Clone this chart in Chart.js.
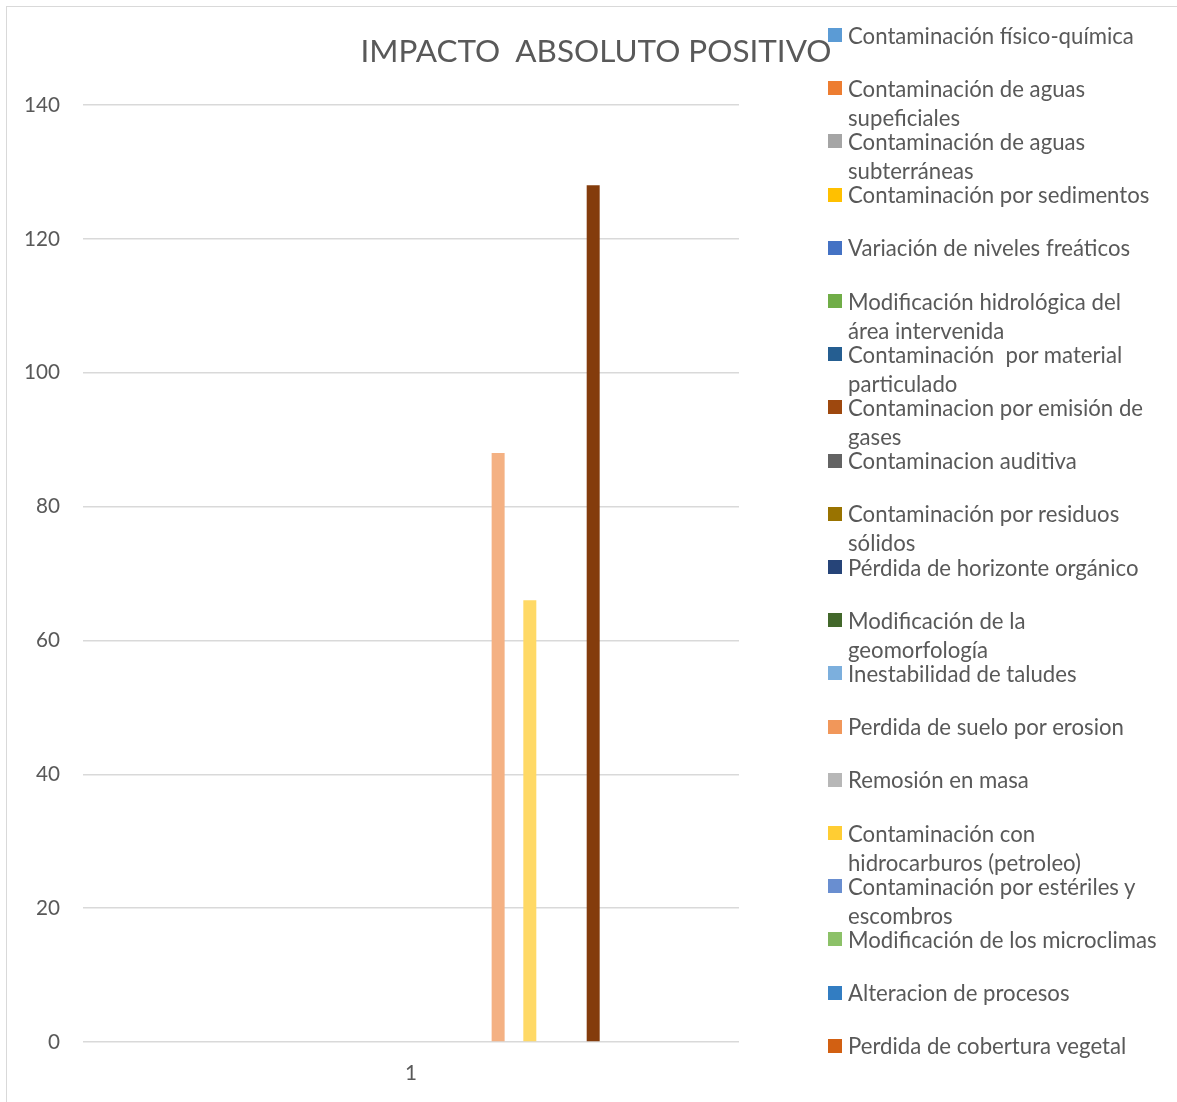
<!DOCTYPE html>
<html lang="es">
<head>
<meta charset="utf-8">
<title>Impacto absoluto positivo</title>
<script src="https://cdn.jsdelivr.net/npm/chart.js@4.4.1/dist/chart.umd.min.js"></script>
<style>
  html, body { margin: 0; padding: 0; background: #ffffff; overflow: hidden; }
  #stage { position: relative; width: 1177px; height: 1102px; overflow: hidden; }
  #frame { position: absolute; left: 6px; top: 6px; width: 1400px; height: 1300px;
           border: 1px solid #D9D9D9; box-sizing: border-box; }
  #chart { position: absolute; left: 0; top: 0; }
  #title { position: absolute; top: 50px; left: 596px; transform: translate(-50%, -50%);
           white-space: pre; color: #595959; font-family: Lato, "Open Sans", sans-serif; }
  #legend { position: absolute; left: 0; top: 0; font-family: Lato, "Open Sans", sans-serif; color: #595959; }
  .item { position: absolute; left: 828px; }
  .swatch { position: absolute; left: 0; width: 14px; height: 14px; }
  .label { position: absolute; left: 20px; width: 312px; line-height: 29px; white-space: pre-wrap; }
</style>
</head>
<body>
<div id="stage">
  <div id="frame"></div>
  <canvas id="chart" width="1177" height="1102"></canvas>
  <div id="title"></div>
  <div id="legend"></div>
</div>
<script>
// ---- data ----
const chartTitle = 'IMPACTO  ABSOLUTO POSITIVO';
const categories = ['1'];

// Named series (the legend lists these)
const seriesNames = [
  'Contaminación físico-química',
  'Contaminación de aguas supeficiales',
  'Contaminación de aguas subterráneas',
  'Contaminación por sedimentos',
  'Variación de niveles freáticos',
  'Modificación hidrológica del área intervenida',
  'Contaminación  por material particulado',
  'Contaminacion por emisión de gases',
  'Contaminacion auditiva',
  'Contaminación por residuos sólidos',
  'Pérdida de horizonte orgánico',
  'Modificación de la geomorfología',
  'Inestabilidad de taludes',
  'Perdida de suelo por erosion',
  'Remosión en masa',
  'Contaminación con hidrocarburos (petroleo)',
  'Contaminación por estériles y escombros',
  'Modificación de los microclimas',
  'Alteracion de procesos',
  'Perdida de cobertura vegetal'
];

// One value per series (40 series in the workbook range)
const seriesValues = [
  0, 0, 0, 0, 0, 0, 0, 0, 0, 0,
  0, 0, 0, 0, 0, 0, 0, 0, 0, 0,
  0, 0, 0, 0, 0, 88, 0, 66, 0, 0,
  0, 128, 0, 0, 0, 0, 0, 0, 0, 0
];

// Office palette, in series order
const seriesColors = [
  '#5B9BD5', '#ED7D31', '#A5A5A5', '#FFC000', '#4472C4', '#70AD47',
  '#255E91', '#9E480E', '#636363', '#997300', '#264478', '#43682B',
  '#7CAFDD', '#F1975A', '#B7B7B7', '#FFCD33', '#698ED0', '#8CC168',
  '#327DC2', '#D26012', '#848484', '#CC9A00', '#335AA1', '#5A8A39',
  '#9DC3E6', '#F4B183', '#C9C9C9', '#FFD966', '#8FAADC', '#A9D18E',
  '#1F4E79', '#843C0C', '#525252', '#7F6000', '#203864', '#385723',
  '#8CB9E2', '#F2A46F', '#C0C0C0', '#FFD34D'
];

const yTicks = [0, 20, 40, 60, 80, 100, 120, 140];

// ---- font sizing: pick sizes so text widths match the layout ----
const FAMILY = 'Lato, "Open Sans", sans-serif';
const measureCtx = document.createElement('canvas').getContext('2d');
function fitSize(text, width) {
  measureCtx.font = '100px ' + FAMILY;
  return 100 * width / measureCtx.measureText(text).width;
}
const tickSize = fitSize('140', 36);
const legendSize = fitSize('Contaminación físico-química', 286);
const titleSize = fitSize(chartTitle, 472);

// ---- title ----
const titleEl = document.getElementById('title');
titleEl.textContent = chartTitle;
titleEl.style.fontSize = titleSize + 'px';

// ---- legend ----
const legendEl = document.getElementById('legend');
seriesNames.forEach((name, i) => {
  const center = 35 + 53.2 * i;
  const item = document.createElement('div');
  item.className = 'item';
  item.style.top = center + 'px';
  const sw = document.createElement('div');
  sw.className = 'swatch';
  sw.style.top = '-7px';
  sw.style.background = seriesColors[i];
  const lb = document.createElement('div');
  lb.className = 'label';
  lb.style.top = '-14.5px';
  lb.style.fontSize = legendSize + 'px';
  lb.textContent = name;
  item.appendChild(sw);
  item.appendChild(lb);
  legendEl.appendChild(item);
});

// ---- chart ----
const datasets = seriesValues.map((v, i) => ({
  label: seriesNames[i] || ('Serie' + (i + 1)),
  data: [v],
  backgroundColor: seriesColors[i],
  borderWidth: 0
}));

new Chart(document.getElementById('chart'), {
  type: 'bar',
  data: { labels: categories, datasets },
  options: {
    responsive: false,
    devicePixelRatio: 1,
    animation: false,
    categoryPercentage: 0.966,
    barPercentage: 0.82,
    layout: { padding: { top: 105, right: 438, bottom: 0, left: 0 } },
    plugins: {
      legend: { display: false },
      title: { display: false },
      tooltip: { enabled: false }
    },
    scales: {
      x: {
        grid: { display: false, drawTicks: false },
        border: { display: false },
        ticks: { color: '#595959', font: { family: FAMILY, size: tickSize }, padding: 19 },
        afterFit: s => { s.height = 60; }
      },
      y: {
        min: 0,
        max: 140,
        afterBuildTicks: s => { s.ticks = yTicks.map(v => ({ value: v })); },
        grid: { color: '#D9D9D9', lineWidth: 1.5, drawTicks: false },
        border: { display: false },
        ticks: { color: '#595959', font: { family: FAMILY, size: tickSize }, padding: 23 },
        afterFit: s => { s.width = 83; }
      }
    }
  }
});
</script>
</body>
</html>
